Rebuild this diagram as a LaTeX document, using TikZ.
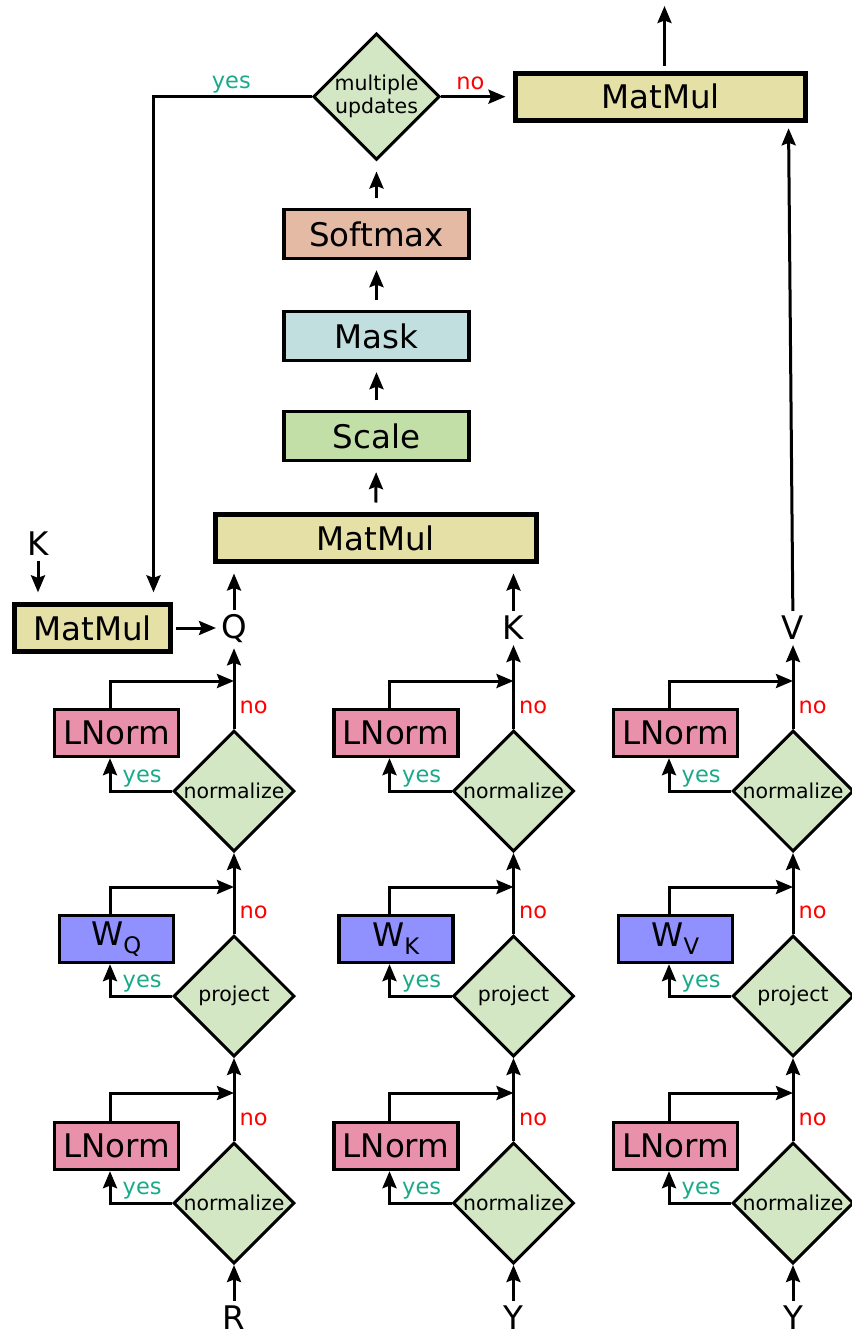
\documentclass[tikz,border=0pt]{standalone}
\usepackage{fontspec}
\setmainfont{DejaVu Sans}
\usetikzlibrary{shapes.geometric,arrows.meta,calc}

\definecolor{decc}{HTML}{D3E7C5}
\definecolor{lnormc}{HTML}{E991AA}
\definecolor{wc}{HTML}{9090FF}
\definecolor{mmc}{HTML}{E5E0A6}
\definecolor{softc}{HTML}{E5BAA5}
\definecolor{maskc}{HTML}{C1DFDF}
\definecolor{scalec}{HTML}{C3DFA8}
\definecolor{yesc}{HTML}{1AAA8A}

\newcommand{\bigtxt}{\fontsize{32.5}{38}\selectfont}
\newcommand{\smalltxt}{\fontsize{20.5}{23}\selectfont}
\newcommand{\labtxt}{\fontsize{22.5}{26}\selectfont}

\begin{document}
\begin{tikzpicture}[x=1pt,y=-1pt,
	arr/.style={line width=3pt,-{Stealth[length=17pt,width=14pt,inset=2.5pt]}},
	chain/.style={arr,shorten <=9.5pt,shorten >=10pt},
	box/.style={draw,line width=3.3pt,inner sep=0pt,font=\bigtxt,minimum height=47pt},
	lnbox/.style={box,fill=lnormc,minimum width=124pt},
	wbox/.style={box,fill=wc,minimum width=114pt},
	opbox/.style={box,minimum width=185pt,minimum height=49pt},
	mmul/.style={box,fill=mmc,line width=5pt},
	decide/.style={diamond,draw,line width=3pt,fill=decc,aspect=1,minimum width=121pt,minimum height=121pt,inner sep=0pt,font=\smalltxt,align=center},
	lbl/.style={font=\bigtxt,inner sep=5pt},
	yeslab/.style={text=yesc,font=\labtxt,inner sep=0pt,anchor=base west},
	nolab/.style={text=red,font=\labtxt,inner sep=0pt,anchor=base west}]
	\useasboundingbox (0,0) rectangle (851,1337);

	% attention part
	\node[mmul,minimum width=290pt] (mmtop) at (660.5,96.7) {MatMul};
	\node[decide] (upd) at (376.5,96.7) {multiple\\updates};
	\node[opbox,fill=softc] (soft) at (376.5,234) {Softmax};
	\node[opbox,fill=maskc] (mask) at (376.5,336) {Mask};
	\node[opbox,fill=scalec] (scale) at (376.5,436) {Scale};
	\node[mmul,minimum width=321pt] (mmmid) at (375.5,538) {MatMul};
	\node[mmul,line width=4.3pt,minimum width=156pt] (mmleft) at (92.5,628) {MatMul};
	\node[lbl] (kin) at (38,543.5) {K};
	\coordinate (out) at (664.5,6);

	\draw[arr,shorten <=5pt] (mmtop.north -| out) -- (out);
	\draw[arr,shorten >=7.5pt] (upd) -- (mmtop);
	\draw[arr,shorten >=10pt] (upd.west) -| ($(mmleft.north)+(61,0)$);
	\node[yeslab] at ($(upd.west)+(-100,-8.4)$) {yes};
	\node[nolab] at ($(upd.east)+(15,-7.4)$) {no};
	\draw[chain] (soft) -- (upd);
	\draw[chain] (mask) -- (soft);
	\draw[chain] (scale) -- (mask);
	\draw[chain] (mmmid) -- (scale);
	\draw[arr,shorten >=10pt] (kin) -- (kin |- mmleft.north);

	% Q column
	\node[lbl] (q) at (234,629) {Q};
	\node[decide] (qn2) at (234,791) {normalize};
	\node[lnbox] (qln2) at (116.5,733) {LNorm};
	\node[decide] (qpr) at (234,996) {project};
	\node[wbox] (qw) at (116.5,939) {W\textsubscript{Q}};
	\node[decide] (qn1) at (234,1203) {normalize};
	\node[lnbox] (qln1) at (116.5,1146) {LNorm};
	\node[lbl] (qin) at (234,1318) {R};
	\coordinate (qm1) at (234,1093);
	\coordinate (qm2) at (234,887);
	\coordinate (qm3) at (234,681);
	\draw[arr] (qin) -- (qn1);
	\draw[arr] (qn1) -- (qpr);
	\draw[arr] (qpr) -- (qn2);
	\draw[arr] (qn2) -- (q);
	\draw[arr] (qn1.west) -| ([xshift=-6.5pt]qln1.south);
	\draw[arr] ([xshift=-6.5pt]qln1.north) |- (qm1);
	\draw[arr] (qpr.west) -| ([xshift=-6.5pt]qw.south);
	\draw[arr] ([xshift=-6.5pt]qw.north) |- (qm2);
	\draw[arr] (qn2.west) -| ([xshift=-6.5pt]qln2.south);
	\draw[arr] ([xshift=-6.5pt]qln2.north) |- (qm3);
	\node[yeslab] at ($(qn1.west)+(-49.5,-8.3)$) {yes};
	\node[yeslab] at ($(qpr.west)+(-49.5,-8.3)$) {yes};
	\node[yeslab] at ($(qn2.west)+(-49.5,-8.3)$) {yes};
	\node[nolab] at ($(qn1.north)+(5.5,-16)$) {no};
	\node[nolab] at ($(qpr.north)+(5.5,-16)$) {no};
	\node[nolab] at ($(qn2.north)+(5.5,-16)$) {no};
	\draw[arr,shorten <=3pt] (mmleft.east) -- (mmleft.east -| q.west);
	\draw[arr,shorten >=9.5pt] (q) -- (q |- mmmid.south);

	% K column
	\node[lbl] (k) at (513.5,628) {K};
	\node[decide] (kn2) at (513.5,791) {normalize};
	\node[lnbox] (kln2) at (396,733) {LNorm};
	\node[decide] (kpr) at (513.5,996) {project};
	\node[wbox] (kw) at (396,939) {W\textsubscript{K}};
	\node[decide] (kn1) at (513.5,1203) {normalize};
	\node[lnbox] (kln1) at (396,1146) {LNorm};
	\node[lbl] (kinp) at (513.5,1318) {Y};
	\coordinate (km1) at (513.5,1093);
	\coordinate (km2) at (513.5,887);
	\coordinate (km3) at (513.5,681);
	\draw[arr] (kinp) -- (kn1);
	\draw[arr] (kn1) -- (kpr);
	\draw[arr] (kpr) -- (kn2);
	\draw[arr] (kn2) -- (k);
	\draw[arr] (kn1.west) -| ([xshift=-6.5pt]kln1.south);
	\draw[arr] ([xshift=-6.5pt]kln1.north) |- (km1);
	\draw[arr] (kpr.west) -| ([xshift=-6.5pt]kw.south);
	\draw[arr] ([xshift=-6.5pt]kw.north) |- (km2);
	\draw[arr] (kn2.west) -| ([xshift=-6.5pt]kln2.south);
	\draw[arr] ([xshift=-6.5pt]kln2.north) |- (km3);
	\node[yeslab] at ($(kn1.west)+(-49.5,-8.3)$) {yes};
	\node[yeslab] at ($(kpr.west)+(-49.5,-8.3)$) {yes};
	\node[yeslab] at ($(kn2.west)+(-49.5,-8.3)$) {yes};
	\node[nolab] at ($(kn1.north)+(5.5,-16)$) {no};
	\node[nolab] at ($(kpr.north)+(5.5,-16)$) {no};
	\node[nolab] at ($(kn2.north)+(5.5,-16)$) {no};
	\draw[arr,shorten >=9.5pt] (k) -- (k |- mmmid.south);

	% V column
	\node[lbl] (v) at (793,628) {V};
	\node[decide] (vn2) at (793,791) {normalize};
	\node[lnbox] (vln2) at (675.5,733) {LNorm};
	\node[decide] (vpr) at (793,996) {project};
	\node[wbox] (vw) at (675.5,939) {W\textsubscript{V}};
	\node[decide] (vn1) at (793,1203) {normalize};
	\node[lnbox] (vln1) at (675.5,1146) {LNorm};
	\node[lbl] (vinp) at (793,1318) {Y};
	\coordinate (vm1) at (793,1093);
	\coordinate (vm2) at (793,887);
	\coordinate (vm3) at (793,681);
	\draw[arr] (vinp) -- (vn1);
	\draw[arr] (vn1) -- (vpr);
	\draw[arr] (vpr) -- (vn2);
	\draw[arr] (vn2) -- (v);
	\draw[arr] (vn1.west) -| ([xshift=-6.5pt]vln1.south);
	\draw[arr] ([xshift=-6.5pt]vln1.north) |- (vm1);
	\draw[arr] (vpr.west) -| ([xshift=-6.5pt]vw.south);
	\draw[arr] ([xshift=-6.5pt]vw.north) |- (vm2);
	\draw[arr] (vn2.west) -| ([xshift=-6.5pt]vln2.south);
	\draw[arr] ([xshift=-6.5pt]vln2.north) |- (vm3);
	\node[yeslab] at ($(vn1.west)+(-49.5,-8.3)$) {yes};
	\node[yeslab] at ($(vpr.west)+(-49.5,-8.3)$) {yes};
	\node[yeslab] at ($(vn2.west)+(-49.5,-8.3)$) {yes};
	\node[nolab] at ($(vn1.north)+(5.5,-16)$) {no};
	\node[nolab] at ($(vpr.north)+(5.5,-16)$) {no};
	\node[nolab] at ($(vn2.north)+(5.5,-16)$) {no};
	\draw[arr,shorten >=5.6pt] (v) -- ($(mmtop.south)+(128,0)$);
\end{tikzpicture}
\end{document}
